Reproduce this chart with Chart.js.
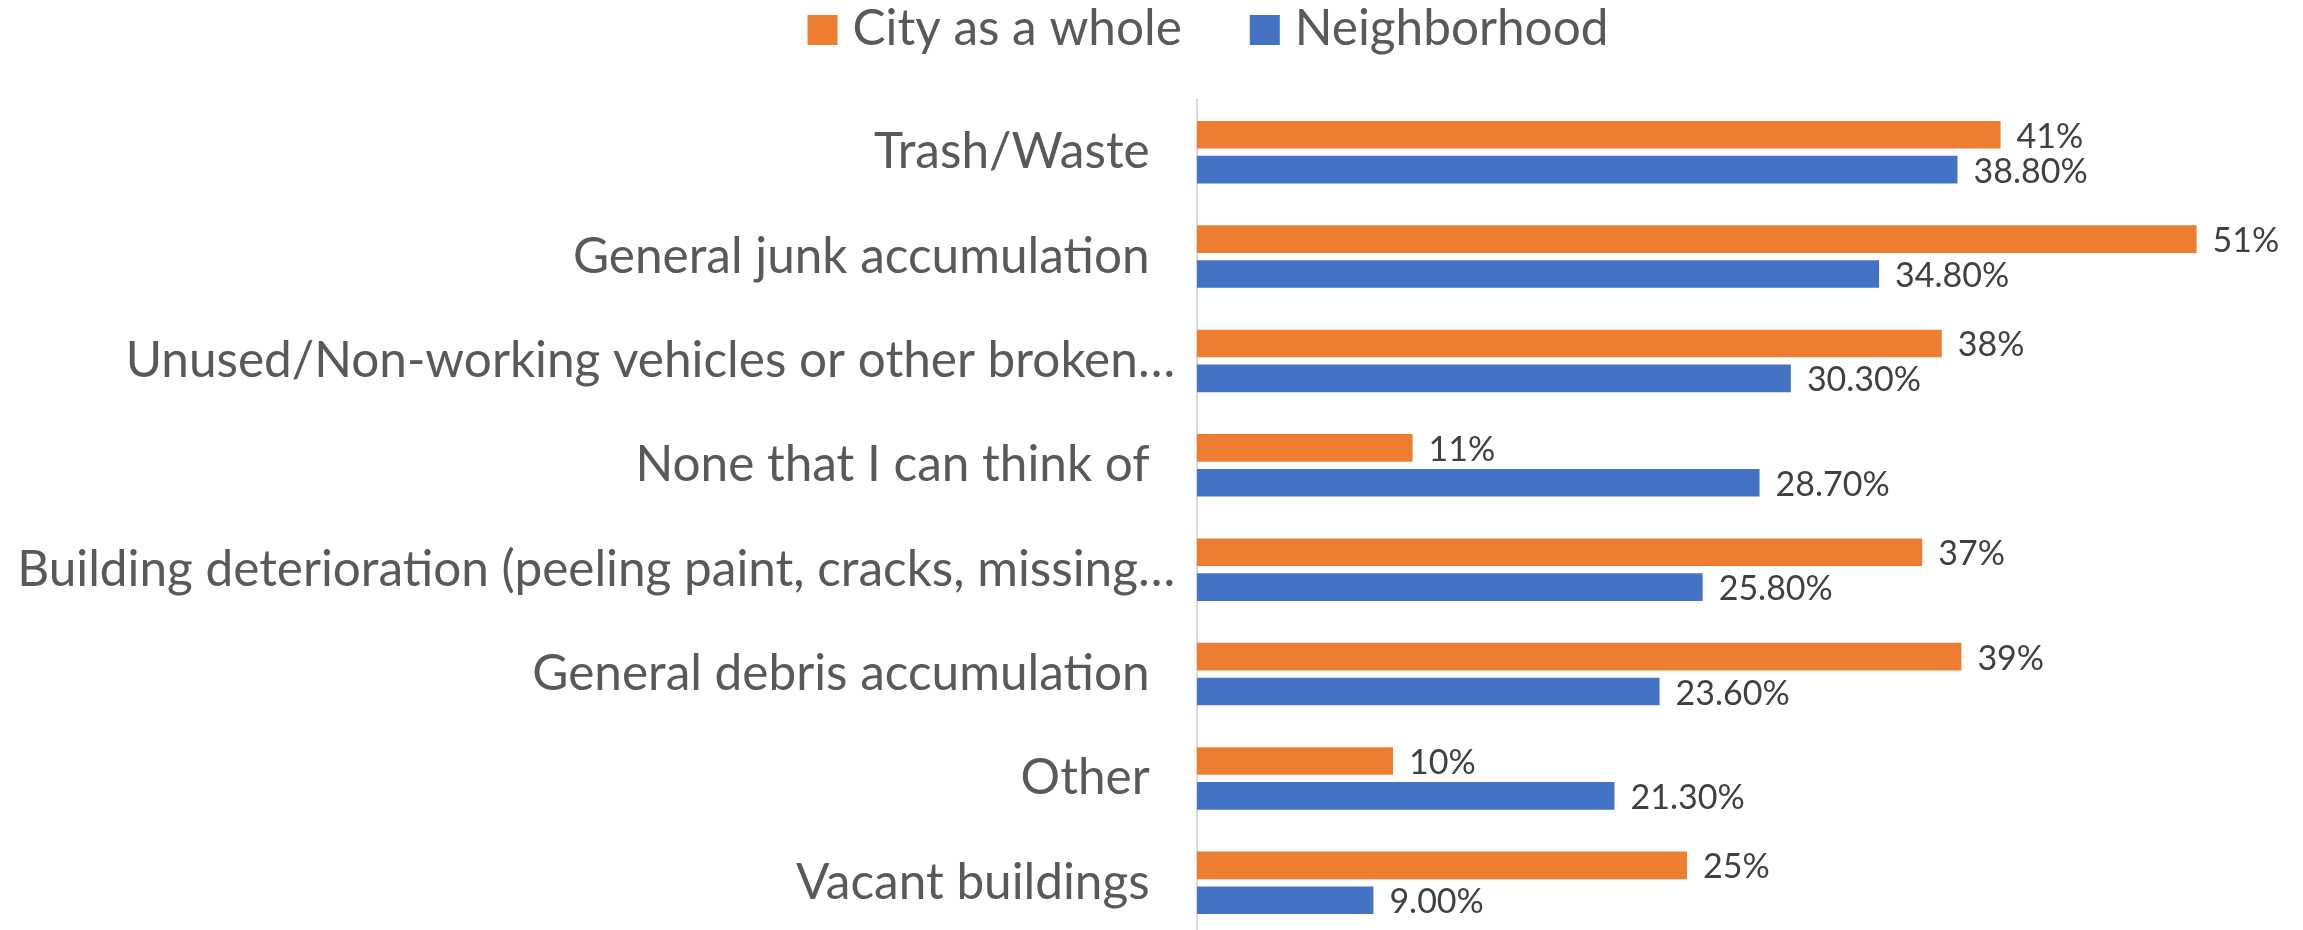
<!DOCTYPE html>
<html>
<head>
<meta charset="utf-8">
<title>Neighborhood vs city</title>
<script src="https://cdn.jsdelivr.net/npm/chart.js@4.4.1/dist/chart.umd.min.js"></script>
<style>
  html, body { margin: 0; padding: 0; background: #fff; overflow: hidden; }
  #wrap { width: 2303px; height: 935px; position: relative; }
</style>
</head>
<body>
<div id="wrap"><canvas id="chart"></canvas></div>
<script>
// Data
const categories = [
    'Trash/Waste  ',
    'General junk accumulation  ',
    'Unused/Non-working vehicles or other broken…',
    'None that I can think of  ',
    'Building deterioration (peeling paint, cracks, missing…',
    'General debris accumulation  ',
    'Other  ',
    'Vacant buildings  '
];
const seriesNames = ['City as a whole', 'Neighborhood'];
const cityValues = [41, 51, 38, 11, 37, 39, 10, 25];
const neighborhoodValues = [38.8, 34.8, 30.3, 28.7, 25.8, 23.6, 21.3, 9.0];
const labelDecimals = [0, 2];

const FONT = 'Lato, "Open Sans", sans-serif';

// Legend drawn across the top, centred a bit right of the page middle
const topLegend = {
    id: 'topLegend',
    afterDraw(chart) {
        const ctx = chart.ctx;
        ctx.save();
        ctx.font = `49.5px ${FONT}`;
        const items = chart.data.datasets.map((ds) => ({
            text: ds.label,
            color: ds.backgroundColor,
            w: ctx.measureText(ds.label).width
        }));
        const total = items.reduce((s, it) => s + 45 + it.w, 0) + 68 * (items.length - 1);
        let x = 1208 - total / 2;
        ctx.textBaseline = 'alphabetic';
        items.forEach((it) => {
            ctx.fillStyle = it.color;
            ctx.fillRect(x, 15, 30, 30);
            ctx.fillStyle = '#595959';
            ctx.fillText(it.text, x + 45, 45);
            x += 45 + it.w + 68;
        });
        ctx.restore();
    }
};

// Value labels at the end of each bar
const barLabels = {
    id: 'barLabels',
    afterDatasetsDraw(chart) {
        const ctx = chart.ctx;
        ctx.save();
        ctx.font = `34px ${FONT}`;
        ctx.fillStyle = '#404040';
        ctx.textAlign = 'left';
        ctx.textBaseline = 'middle';
        chart.data.datasets.forEach((ds, i) => {
            const meta = chart.getDatasetMeta(i);
            meta.data.forEach((bar, j) => {
                const txt = ds.data[j].toFixed(labelDecimals[i]) + '%';
                ctx.fillText(txt, bar.x + 16, bar.y + 2);
            });
        });
        ctx.restore();
    }
};

new Chart(document.getElementById('chart'), {
    type: 'bar',
    data: {
        labels: categories,
        datasets: [{
            label: seriesNames[0],
            data: cityValues,
            backgroundColor: '#ED7D31'
        }, {
            label: seriesNames[1],
            data: neighborhoodValues,
            backgroundColor: '#4472C4'
        }]
    },
    options: {
        indexAxis: 'y',
        responsive: true,
        maintainAspectRatio: false,
        animation: false,
        categoryPercentage: 0.67,
        barPercentage: 0.79,
        layout: {
            padding: { top: 100, right: 28, bottom: 0, left: 0 }
        },
        plugins: {
            legend: { display: false },
            tooltip: { enabled: false }
        },
        scales: {
            x: {
                display: false,
                min: 0,
                max: 55
            },
            y: {
                afterFit: (scale) => {
                    scale.width = 1197;
                    // the plot runs right to the edges, no room kept for half labels
                    scale.paddingTop = 0;
                    scale.paddingBottom = 0;
                },
                grid: { display: false, drawTicks: false },
                border: { display: true, color: '#d9d9d9', width: 2 },
                ticks: {
                    padding: 22,
                    color: '#595959',
                    font: { family: FONT, size: 49.5 }
                }
            }
        }
    },
    plugins: [topLegend, barLabels]
});
</script>
</body>
</html>
